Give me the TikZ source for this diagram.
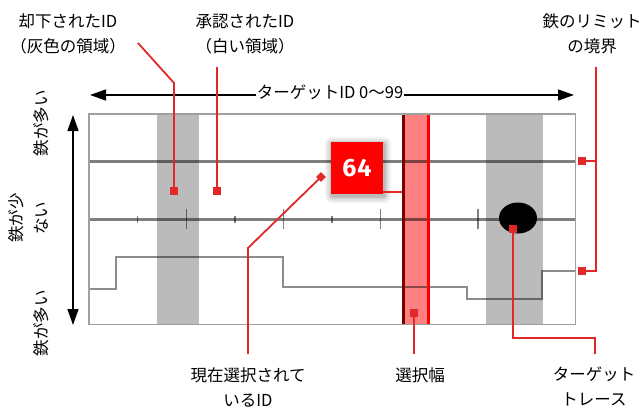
\documentclass[tikz,border=0pt]{standalone}
\usepackage{fontspec}
\setmainfont{Noto Sans CJK JP}
\newfontfamily\numfont{Fira Sans}
\usetikzlibrary{arrows.meta,shapes.geometric}
\definecolor{redl}{HTML}{E02828}
\definecolor{bandg}{HTML}{BBBBBB}
\definecolor{selfill}{HTML}{FF8080}
\definecolor{seldark}{HTML}{7A0000}
\definecolor{framegray}{HTML}{A0A0A0}
\tikzset{
  lbl/.style={font=\fontsize{16.5}{25}\selectfont, align=center, inner sep=1pt},
  redline/.style={draw=redl, line width=1.8pt},
  marker/.style={rectangle, fill=redl, minimum size=8pt, inner sep=0pt},
  gridline/.style={draw=black, draw opacity=0.5, line width=3pt},
  tickline/.style={draw=black, draw opacity=0.5, line width=1.4pt},
  traceline/.style={draw=black, draw opacity=0.45, line width=1.6pt},
  band/.style={fill=bandg, minimum height=210pt, inner sep=0pt, anchor=north west},
  bigarrow/.style={line width=1.3pt, {Triangle[length=16pt,width=11pt]}-{Triangle[length=16pt,width=11pt]}},
}
\begin{document}
\begin{tikzpicture}[x=1pt,y=-1pt]
\useasboundingbox (0,0) rectangle (644,409);
% frame
\node[fill=white, minimum width=486pt, minimum height=210pt, inner sep=0pt, anchor=north west] (frame) at (89,114) {};
% gray bands
\node[band, minimum width=42pt] (rej) at (157,114) {};
\node[band, minimum width=57pt] (rej2) at (486,114) {};
% selection band
\node[band, fill=selfill, minimum width=28pt] (sel) at (402,114) {};
% grid lines
\draw[gridline] (89,161) -- (575,161);
\draw[gridline] (89,219) -- (575,219);
\foreach \i in {1,3,5,7,9} \draw[tickline] ({89+48.6*\i},215.5) -- ({89+48.6*\i},222.5);
\foreach \i in {2,4,6,8} \draw[tickline] ({89+48.6*\i},209) -- ({89+48.6*\i},229);
% trace
\draw[traceline] (89,289) -- (116,289) -- (116,257) -- (283,257) -- (283,287) -- (467,287) -- (467,299) -- (542,299) -- (542,271) -- (575,271);
% selection edges
\draw[draw=seldark, line width=3pt] (sel.north west) ++(1.5,0) -- ([xshift=1.5pt]sel.south west);
\draw[draw=red, line width=3pt] ([xshift=-1.5pt]sel.north east) -- ([xshift=-1.5pt]sel.south east);
% frame border
\draw[draw=framegray, line width=1.2pt] (frame.north west) rectangle (frame.south east);
% blob
\node[ellipse, fill=black, minimum width=38pt, minimum height=31pt, inner sep=0pt] (blob) at (518,218) {};
% arrows
\coordinate (hl) at (90,95);
\coordinate (hr) at (574,95);
\draw[bigarrow] (hl) -- (hr);
\node[lbl, fill=white, inner sep=1pt] (hlab) at (330,92) {ターゲットID 0〜99};
\coordinate (vt) at (73,115);
\coordinate (vb) at (73,325);
\draw[bigarrow] (vt) -- (vb);
% left labels
\node[lbl, rotate=90] (ltop) at (41,123) {鉄が多い};
\node[lbl, rotate=90] (lmid) at (28,218) {鉄が少\\ない};
\node[lbl, rotate=90] (lbot) at (41,323) {鉄が多い};
% top labels
\node[lbl] (rejlab) at (68,34) {却下されたID\\（灰色の領域）};
\node[lbl] (acclab) at (245,34) {承認されたID\\（白い領域）};
\node[lbl] (limlab) at (592,34) {鉄のリミット\\の境界};
% bottom labels
\node[lbl, anchor=north] (curlab) at (248,366) {現在選択されて\\いるID};
\node[lbl, anchor=north] (sellab) at (420,366) {選択幅};
\node[lbl, anchor=north] (trlab) at (594,366) {ターゲット\\トレース};
% 64 box with shadow
\foreach \s/\o in {7/0.05,5/0.06,3/0.08,1.5/0.1}
  \fill[black, opacity=\o, rounded corners=\s pt] ({331-\s+1},{142-\s+2}) rectangle ({383+\s+1},{194+\s+2});
\node[fill=red, minimum width=52pt, minimum height=52pt, inner sep=0pt, text=white, font=\numfont\bfseries\fontsize{25}{25}\selectfont] (box) at (357,168) {6\kern1pt4};
% markers
\node[marker] (mrej) at (174,191) {};
\node[marker] (macc) at (217,191) {};
\node[marker, rotate=45, minimum size=7pt] (mcur) at (321,177) {};
\node[marker] (msel) at (414,313) {};
\node[marker] (mtr) at (513,229) {};
\node[marker] (ml1) at (582,161) {};
\node[marker] (ml2) at (582,271) {};
% connectors
\coordinate (r0) at (138,43);
\coordinate (r1) at (174,83);
\draw[redline] (r0) -- (r1) -- (mrej.center);
\coordinate (a0) at (217,67);
\draw[redline] (a0) -- (macc.center);
\coordinate (c1) at (248,248);
\coordinate (c2) at (248,354);
\draw[redline] (mcur.center) -- (c1) -- (c2);
\coordinate (b0) at (383,192);
\coordinate (b1) at (402,192);
\draw[redline] (b0) -- (b1);
\coordinate (s1) at (414,354);
\draw[redline] (msel.center) -- (s1);
\coordinate (t1) at (513,338);
\coordinate (t2) at (595,338);
\coordinate (t3) at (595,354);
\draw[redline] (mtr.center) -- (t1) -- (t2) -- (t3);
\coordinate (l0) at (596,67);
\coordinate (l1) at (596,161);
\coordinate (l2) at (596,271);
\draw[redline] (l0) -- (l2) -- (ml2.center);
\draw[redline] (l1) -- (ml1.center);
\end{tikzpicture}
\end{document}
